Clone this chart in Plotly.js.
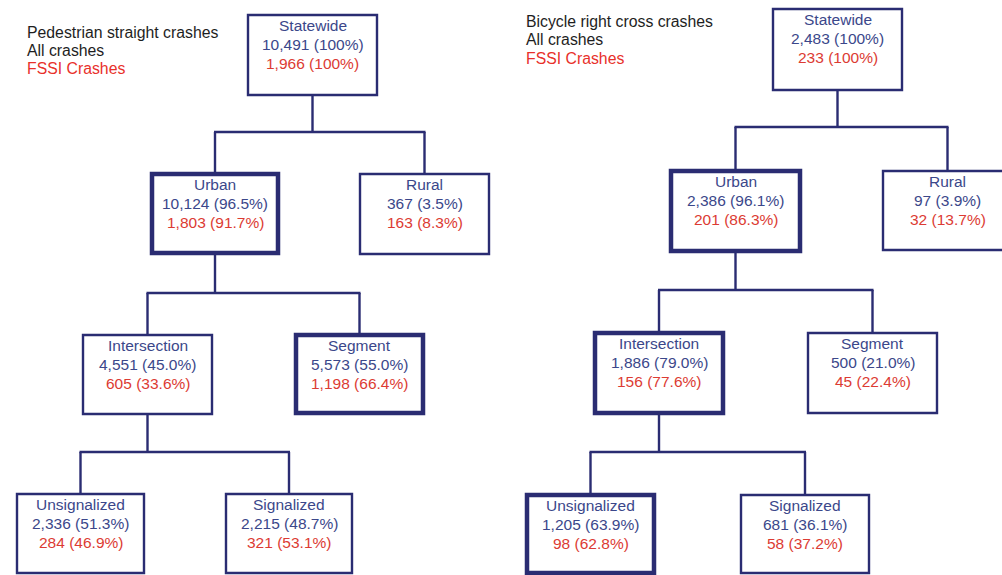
<!DOCTYPE html>
<html>
<head>
<meta charset="utf-8">
<script src="https://cdn.plot.ly/plotly-3.0.1.min.js"></script>
<style>html,body{margin:0;padding:0;background:#fff;}#chart{width:1002px;height:575px;}</style>
</head>
<body>
<div id="chart"></div>
<script>
// ---- Data ----
const nodeNames = ["Statewide", "Urban", "Rural", "Intersection", "Segment", "Unsignalized", "Signalized"];
const parentIndex = [-1, 0, 0, 1, 1, 3, 3];

const pedTitle = "Pedestrian straight crashes";
const pedAll = [10491, 10124, 367, 4551, 5573, 2336, 2215];
const pedAllPct = [100, 96.5, 3.5, 45.0, 55.0, 51.3, 48.7];
const pedFssi = [1966, 1803, 163, 605, 1198, 284, 321];
const pedFssiPct = [100, 91.7, 8.3, 33.6, 66.4, 46.9, 53.1];
const pedHighlight = [false, true, false, false, true, false, false];

const bikeTitle = "Bicycle right cross crashes";
const bikeAll = [2483, 2386, 97, 1886, 500, 1205, 681];
const bikeAllPct = [100, 96.1, 3.9, 79.0, 21.0, 63.9, 36.1];
const bikeFssi = [233, 201, 32, 156, 45, 98, 58];
const bikeFssiPct = [100, 86.3, 13.7, 77.6, 22.4, 62.8, 37.2];
const bikeHighlight = [false, true, false, true, false, true, false];

const legendAll = "All crashes";
const legendFssi = "FSSI Crashes";

// ---- Layout (positions, in pixel-like axis units) ----
const pedBoxes = [[248,377,15,95],[152,278,174,253],[360,489,174,254],[83,212,335,414],[296,423,335,413],[17,144,494,573],[226,352,494,573]];
const pedMidY = {0:132, 1:293, 3:452};
const pedLegendPos = {x:25, y:[32,50,68]};

const bikeBoxes = [[773,902,9,90],[671,800,171,251],[883,1012,171,250],[595,723,333,413],[808,937,333,413],[527,654,495,573],[741,869,495,573]];
const bikeMidY = {0:127, 1:290, 3:452};
const bikeLegendPos = {x:524, y:[21,39,58]};

const NAVY = "#2a2c72";
const BLUE = "#3b478a";
const RED = "#dc3b33";
const BLACK = "#1e1e1e";
const FONT = "Liberation Sans, Arial, sans-serif";
const FS = 15.5;
const FS_LEG = 15.8;

function fmtCount(v){ return v.toLocaleString("en-US"); }
function fmtPct(p){ return p === 100 ? "100%" : p.toFixed(1) + "%"; }

const shapes = [];
const annotations = [];

function txt(x, y, s, color, anchor, size){
  annotations.push({x:x, y:y, xref:"x", yref:"y", text:s, showarrow:false,
    xanchor:anchor||"center", yanchor:"middle",
    font:{family:FONT, size:size||FS, color:color}});
}

function buildTree(boxes, midY, all, allPct, fssi, fssiPct, hl, title, lpos){
  Object.keys(midY).forEach(k => {
    const p = +k;
    const pb = boxes[p];
    const pcx = (pb[0]+pb[1])/2;
    const my = midY[k];
    const kids = parentIndex.map((v,i)=>v===p?i:-1).filter(i=>i>=0);
    shapes.push({type:"line", xref:"x", yref:"y", x0:pcx, x1:pcx, y0:pb[3], y1:my, line:{color:NAVY, width:2.4}});
    const cxs = kids.map(i => (boxes[i][0]+boxes[i][1])/2);
    shapes.push({type:"line", xref:"x", yref:"y", x0:Math.min(...cxs)-1, x1:Math.max(...cxs)+1, y0:my, y1:my, line:{color:NAVY, width:2.4}});
    kids.forEach((i,j) => {
      shapes.push({type:"line", xref:"x", yref:"y", x0:cxs[j], x1:cxs[j], y0:my, y1:boxes[i][2], line:{color:NAVY, width:2.4}});
    });
  });
  boxes.forEach((b,i) => {
    shapes.push({type:"rect", xref:"x", yref:"y", x0:b[0], x1:b[1], y0:b[2], y1:b[3],
      fillcolor:"#ffffff", line:{color:NAVY, width: hl[i] ? 4.5 : 2.4}});
    const cx = (b[0]+b[1])/2;
    txt(cx, b[2]+10.5, nodeNames[i], BLUE);
    txt(cx, b[2]+29.5, fmtCount(all[i]) + " (" + fmtPct(allPct[i]) + ")", BLUE);
    txt(cx, b[2]+48.5, fmtCount(fssi[i]) + " (" + fmtPct(fssiPct[i]) + ")", RED);
  });
  txt(lpos.x, lpos.y[0], title, BLACK, "left", FS_LEG);
  txt(lpos.x, lpos.y[1], legendAll, BLACK, "left", FS_LEG);
  txt(lpos.x, lpos.y[2], legendFssi, "#e8302a", "left", FS_LEG);
}

buildTree(pedBoxes, pedMidY, pedAll, pedAllPct, pedFssi, pedFssiPct, pedHighlight, pedTitle, pedLegendPos);
buildTree(bikeBoxes, bikeMidY, bikeAll, bikeAllPct, bikeFssi, bikeFssiPct, bikeHighlight, bikeTitle, bikeLegendPos);

const layout = {
  width:1002, height:575,
  margin:{l:0, r:0, t:0, b:0},
  paper_bgcolor:"#ffffff", plot_bgcolor:"#ffffff",
  xaxis:{range:[0,1002], visible:false, fixedrange:true},
  yaxis:{range:[575,0], visible:false, fixedrange:true},
  showlegend:false,
  shapes:shapes,
  annotations:annotations
};

Plotly.newPlot("chart", [{x:[], y:[], type:"scatter", mode:"markers", hoverinfo:"skip"}], layout, {displayModeBar:false, staticPlot:true});
</script>
</body>
</html>
